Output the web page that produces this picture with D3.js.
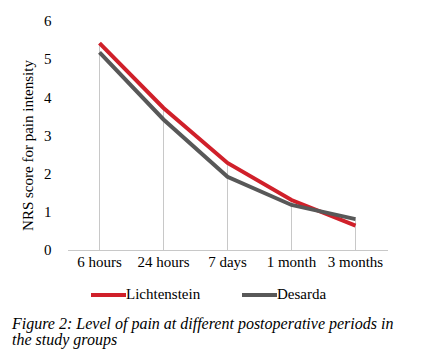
<!DOCTYPE html>
<html>
<head>
<meta charset="utf-8">
<script src="https://cdn.jsdelivr.net/npm/d3@7"></script>
<style>
  body { margin: 0; background: #fff; }
  svg { display: block; font-family: "Liberation Serif", "Times New Roman", serif; }
</style>
</head>
<body>
<div id="chart"></div>
<script>
// data
const periods = ["6 hours", "24 hours", "7 days", "1 month", "3 months"];
const lichtenstein = [5.42, 3.72, 2.28, 1.31, 0.64];
const desarda = [5.18, 3.42, 1.92, 1.18, 0.81];
const yTicks = [0, 1, 2, 3, 4, 5, 6];
const seriesNames = ["Lichtenstein", "Desarda"];
const seriesColors = ["#d0202a", "#585858"];

const W = 425, H = 354;
const svg = d3.select("#chart").append("svg")
    .attr("width", W)
    .attr("height", H);

// scales
let x = d3.scaleBand().domain(periods).range([67.5, 387.5]);
let y = d3.scaleLinear().domain([0, 6]).range([250, 21]);

let series = [lichtenstein, desarda];

// drop lines from the highest point down to the axis
svg.append("g").selectAll("line")
    .data(periods)
    .enter().append("line")
    .attr("x1", d => x(d) + x.bandwidth() / 2)
    .attr("x2", d => x(d) + x.bandwidth() / 2)
    .attr("y1", (d, i) => y(Math.max(lichtenstein[i], desarda[i])))
    .attr("y2", y(0))
    .attr("stroke", "#c8c8c8")
    .attr("stroke-width", 1);

// x axis
let xAxis = d3.axisBottom(x).tickSize(0).tickPadding(6);
let gx = svg.append("g")
    .attr("transform", `translate(0, ${y(0)})`)
    .call(xAxis);
gx.select(".domain").attr("stroke", "#c8c8c8");
gx.selectAll("text")
    .attr("font-family", "Liberation Serif")
    .attr("font-size", 15)
    .attr("fill", "#000");

// y axis (labels only)
let yAxis = d3.axisLeft(y).tickValues(yTicks).tickFormat(d3.format("d")).tickSize(0).tickPadding(16);
let gy = svg.append("g")
    .attr("transform", `translate(67.5, 0)`)
    .call(yAxis);
gy.select(".domain").remove();
gy.selectAll("text")
    .attr("font-family", "Liberation Serif")
    .attr("font-size", 15)
    .attr("fill", "#000");

// y axis title
svg.append("text")
    .attr("transform", `translate(33, ${(y(0) + y(6)) / 2 + 10}) rotate(-90)`)
    .attr("text-anchor", "middle")
    .attr("font-size", 15)
    .text("NRS score for pain intensity");

// lines
let line = d3.line()
    .x((d, i) => x(periods[i]) + x.bandwidth() / 2)
    .y(d => y(d));

svg.append("g").selectAll("path")
    .data(series)
    .enter().append("path")
    .attr("d", d => line(d))
    .attr("fill", "none")
    .attr("stroke", (d, i) => seriesColors[i])
    .attr("stroke-width", 4);

// legend
let legendX = [91, 242];
let legend = svg.append("g").selectAll("g")
    .data(seriesNames)
    .enter().append("g")
    .attr("transform", (d, i) => `translate(${legendX[i]}, 295)`);
legend.append("line")
    .attr("x1", 0).attr("x2", 35)
    .attr("y1", 0).attr("y2", 0)
    .attr("stroke", (d, i) => seriesColors[i])
    .attr("stroke-width", 4);
legend.append("text")
    .attr("x", 35)
    .attr("y", 4)
    .attr("font-size", 15)
    .text(d => d);

// caption
let caption = ["Figure 2: Level of pain at different postoperative periods in", "the study groups"];
svg.append("g").selectAll("text")
    .data(caption)
    .enter().append("text")
    .attr("x", 12)
    .attr("y", (d, i) => 329 + i * 15.5)
    .attr("font-size", 16)
    .attr("font-style", "italic")
    .text(d => d);
</script>
</body>
</html>
